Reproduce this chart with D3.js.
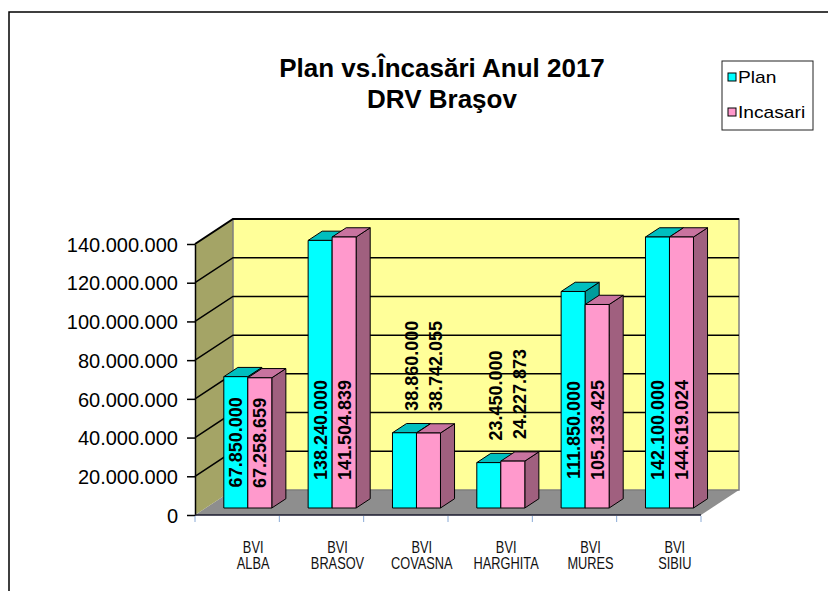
<!DOCTYPE html>
<html>
<head>
<meta charset="utf-8">
<script src="https://cdn.jsdelivr.net/npm/d3@7"></script>
<style>
  body { margin: 0; background: #fff; }
  text { font-family: "Liberation Sans", Arial, sans-serif; }
</style>
</head>
<body>
<div id="chart"></div>
<script>
// chart data
const categories = ["BVI ALBA", "BVI BRASOV", "BVI COVASNA", "BVI HARGHITA", "BVI MURES", "BVI SIBIU"];
const planValues = [67850000, 138240000, 38860000, 23450000, 111850000, 142100000];
const incasariValues = [67258659, 141504839, 38742055, 24227873, 105133425, 144619024];
const yTicks = [0, 20000000, 40000000, 60000000, 80000000, 100000000, 120000000, 140000000];
const seriesNames = ["Plan", "Incasari"];

const W = 828, H = 591;

// colours: front, top, side
const colors = {
    Plan: ["#00ffff", "#00bfbf", "#009c9c"],
    Incasari: ["#ff99cc", "#c8739f", "#a0607f"]
};

// locale with dots as thousands separator
const ro = d3.formatLocale({decimal: ",", thousands: ".", grouping: [3], currency: ["", " lei"]});
const fmt = ro.format(",d");

const svg = d3.select("#chart").append("svg")
    .attr("width", W)
    .attr("height", H);

// outer border of the chart area
svg.append("rect")
    .attr("x", 9).attr("y", 12)
    .attr("width", 900).attr("height", 700)
    .attr("fill", "none").attr("stroke", "#000").attr("stroke-width", 1.5);

// 3D layout
const pLeft = 195, pRight = 701, pBottom = 515, pTop = 244;
const depth = {dx: 38, dy: -25};
const barFront = 0.28, barBack = 0.65;   // fraction of depth used by the bars

const y = d3.scaleLinear().domain([0, 140000000]).range([pBottom, pTop]);
const x = d3.scaleBand().domain(categories).range([pLeft, pRight]);

const pts = a => a.map(p => p.join(",")).join(" ");

// floor
svg.append("polygon")
    .attr("points", pts([[pLeft, pBottom], [pRight, pBottom], [pRight + depth.dx, pBottom + depth.dy], [pLeft + depth.dx, pBottom + depth.dy]]))
    .attr("fill", "#8e8e8e");

// side wall
svg.append("polygon")
    .attr("points", pts([[pLeft, y(140000000)], [pLeft + depth.dx, y(140000000) + depth.dy], [pLeft + depth.dx, pBottom + depth.dy], [pLeft, pBottom]]))
    .attr("fill", "#a4a466");

// back wall
svg.append("rect")
    .attr("x", pLeft + depth.dx)
    .attr("y", y(140000000) + depth.dy)
    .attr("width", pRight - pLeft)
    .attr("height", y(0) - y(140000000))
    .attr("fill", "#ffff99")
    .attr("stroke", "#7f7f7f")
    .attr("stroke-width", 1.5);

// gridlines: side wall and back wall
const grid = svg.append("g");
yTicks.filter(t => t > 0).forEach(t => {
    grid.append("polyline")
        .attr("points", pts([[pLeft, y(t)], [pLeft + depth.dx, y(t) + depth.dy], [pRight + depth.dx, y(t) + depth.dy]]))
        .attr("fill", "none")
        .attr("stroke", "#000")
        .attr("stroke-width", t === 140000000 ? 2 : 1.5);
});

// bars
const series = [planValues, incasariValues];
const barW = 24;
const fx = depth.dx * barFront, fy = depth.dy * barFront;
const bdx = depth.dx * (barBack - barFront), bdy = depth.dy * (barBack - barFront);

const bars = [];
categories.forEach((c, i) => {
    const cx = x(c) + x.bandwidth() / 2 + fx;
    series.forEach((vals, s) => {
        const v = vals[i];
        const x0 = cx - barW + s * barW;
        const y0 = y(0) + fy;
        const y1 = y(Math.min(v, 140000000)) + fy;
        bars.push({name: seriesNames[s], v, x0, x1: x0 + barW, y0, y1});
    });
});

const barG = svg.append("g").attr("stroke", "#000").attr("stroke-width", 1).attr("stroke-linejoin", "round");
bars.forEach(b => {
    const c = colors[b.name];
    barG.append("polygon")
        .attr("points", pts([[b.x1, b.y0], [b.x1 + bdx, b.y0 + bdy], [b.x1 + bdx, b.y1 + bdy], [b.x1, b.y1]]))
        .attr("fill", c[2]);
    barG.append("polygon")
        .attr("points", pts([[b.x0, b.y1], [b.x1, b.y1], [b.x1 + bdx, b.y1 + bdy], [b.x0 + bdx, b.y1 + bdy]]))
        .attr("fill", c[1]);
    barG.append("rect")
        .attr("x", b.x0).attr("y", b.y1)
        .attr("width", barW).attr("height", b.y0 - b.y1)
        .attr("fill", c[0]);
});

// y axis
const yAxis = svg.append("g")
    .attr("transform", `translate(${pLeft},0)`)
    .call(d3.axisLeft(y).tickValues(yTicks).tickFormat(fmt).tickSize(8).tickSizeOuter(0).tickPadding(9));
yAxis.select(".domain").attr("stroke", "#000").attr("stroke-width", 1.5);
yAxis.selectAll(".tick line").attr("stroke", "#000").attr("stroke-width", 1.5);
yAxis.selectAll(".tick text")
    .attr("font-size", 20)
    .attr("font-family", "'Liberation Sans', Arial, sans-serif")
    .attr("fill", "#000")
    .attr("dy", "0.36em");

// x axis line and ticks at band edges
svg.append("line")
    .attr("x1", pLeft).attr("x2", pRight)
    .attr("y1", pBottom).attr("y2", pBottom)
    .attr("stroke", "#1a1a2e").attr("stroke-width", 1.5);
const edges = categories.map(c => x(c)).concat([pRight]);
svg.selectAll(".xtick").data(edges).enter().append("line")
    .attr("x1", d => d).attr("x2", d => d)
    .attr("y1", pBottom + 1).attr("y2", pBottom + 7)
    .attr("stroke", "#8aaad6").attr("stroke-width", 1);

// category labels (condensed, like the narrow font of the original)
const catG = svg.append("g")
    .attr("font-size", 16)
    .attr("text-anchor", "middle")
    .attr("fill", "#111");
categories.forEach(c => {
    const t = catG.append("text")
        .attr("transform", `translate(${x(c) + x.bandwidth() / 2 + 16},553) scale(0.8,1)`);
    c.split(" ").forEach((w, k) => {
        t.append("tspan")
            .attr("x", 0)
            .attr("dy", k === 0 ? 0 : 16)
            .text(w);
    });
});

// data labels
const labG = svg.append("g")
    .attr("font-size", 18)
    .attr("font-weight", "bold")
    .attr("fill", "#000");
bars.forEach(b => {
    const cx = (b.x0 + b.x1) / 2;
    if (b.v >= 50000000) {
        const cy = Math.max((b.y0 + b.y1) / 2, 430);
        labG.append("text")
            .attr("transform", `translate(${cx},${cy}) rotate(-90)`)
            .attr("text-anchor", "middle")
            .attr("dy", "0.36em")
            .text(fmt(b.v));
    } else {
        labG.append("text")
            .attr("transform", `translate(${cx + 7},${b.y1 - 22}) rotate(-90)`)
            .attr("text-anchor", "start")
            .attr("dy", "0.36em")
            .text(fmt(b.v));
    }
});

// title
const title = svg.append("g")
    .attr("font-size", 26)
    .attr("font-weight", "bold")
    .attr("text-anchor", "middle");
title.append("text").attr("x", 442).attr("y", 77).text("Plan vs.Încasări Anul 2017");
title.append("text").attr("x", 442).attr("y", 108).text("DRV Braşov");

// legend
const leg = svg.append("g").attr("transform", "translate(722,61)");
leg.append("rect")
    .attr("width", 91).attr("height", 69)
    .attr("fill", "#fff").attr("stroke", "#222").attr("stroke-width", 1);
seriesNames.forEach((n, i) => {
    const ly = 22 + i * 35;
    leg.append("rect")
        .attr("x", 6).attr("y", ly - 10)
        .attr("width", 8).attr("height", 8)
        .attr("fill", colors[n][0])
        .attr("stroke", "#000").attr("stroke-width", 1);
    leg.append("text")
        .attr("transform", `translate(16,${ly}) scale(1.2,1)`)
        .attr("font-size", 16)
        .text(n);
});
</script>
</body>
</html>
